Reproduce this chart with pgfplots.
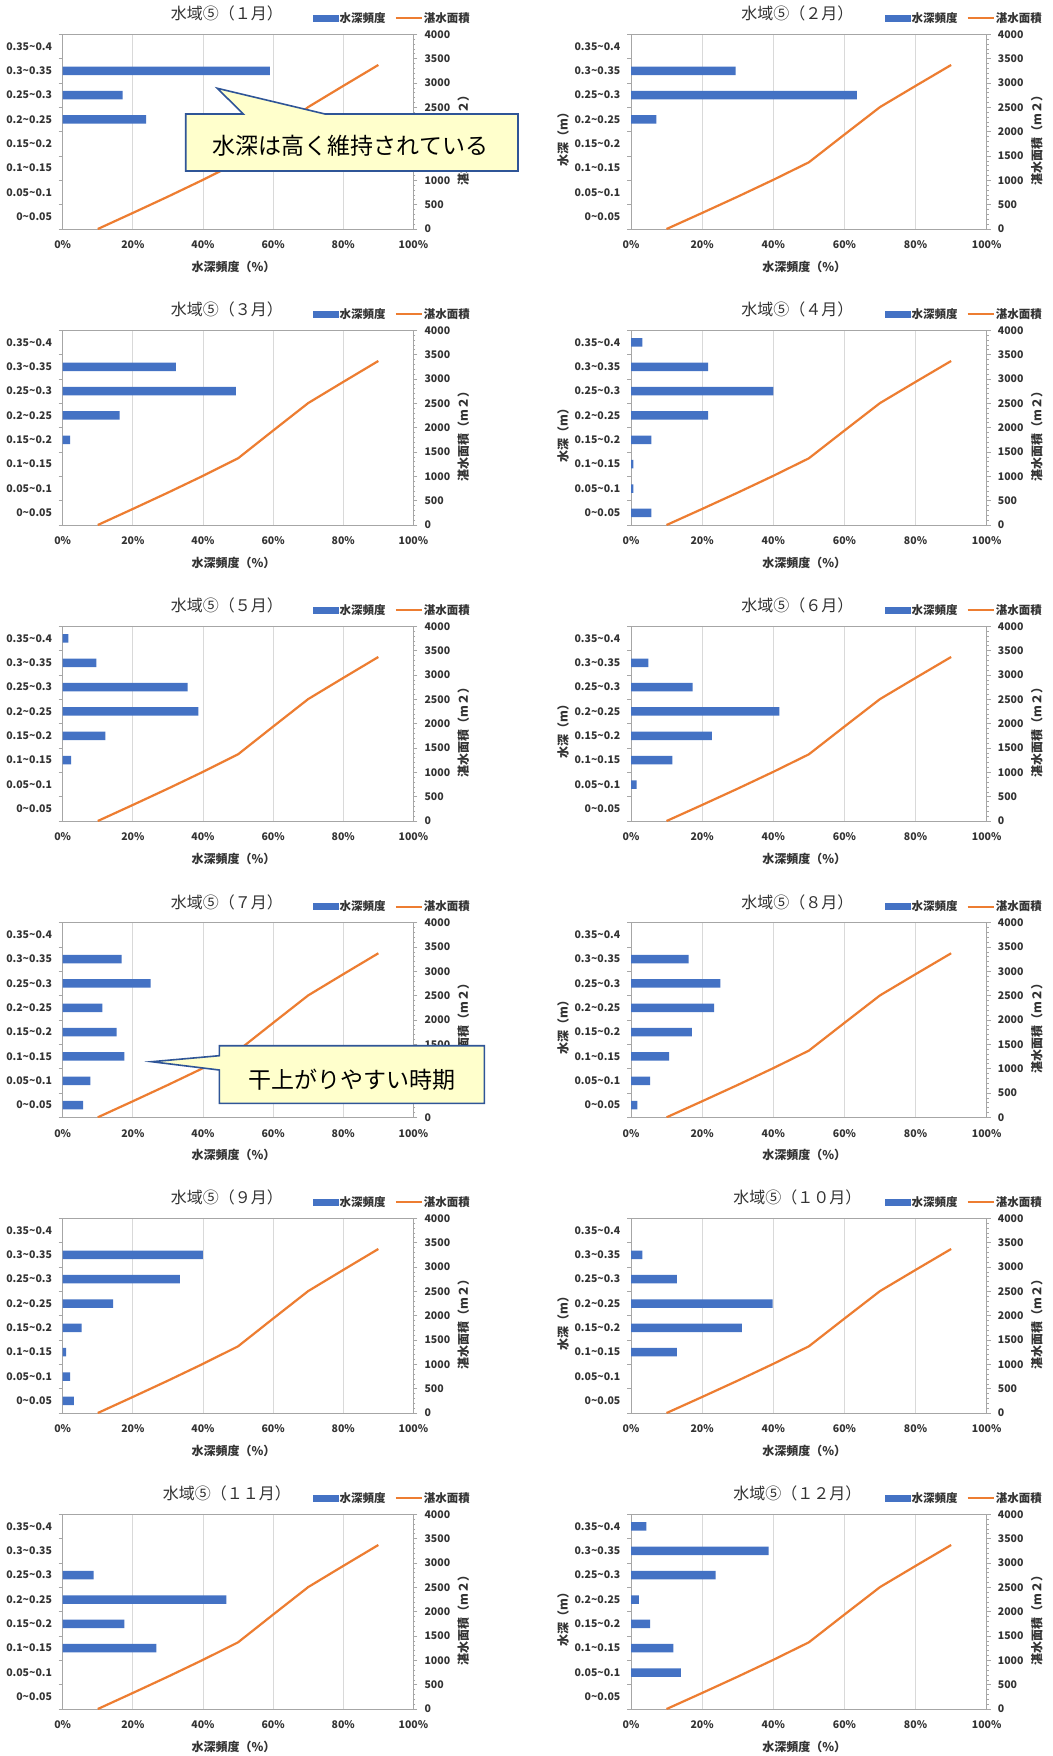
\documentclass[border=0pt]{standalone}
\usepackage{fontspec}
\setmainfont{Noto Sans CJK JP}
\usepackage{pgfplots}
\pgfplotsset{compat=1.18}

\definecolor{barblue}{HTML}{4472C4}
\definecolor{lineorange}{HTML}{ED7D31}
\definecolor{gridgray}{HTML}{D9D9D9}
\definecolor{axisgray}{HTML}{A6A6A6}
\definecolor{txt}{HTML}{333333}
\definecolor{calloutfill}{HTML}{FFFFCC}
\definecolor{calloutline}{HTML}{2F5597}

\newcommand{\tickfont}{\fontsize{10.5}{12}\selectfont\bfseries}
\newcommand{\labfont}{\fontsize{12}{14}\selectfont\bfseries}
\newcommand{\ttlfont}{\fontsize{16}{18}\selectfont}
\newcommand{\tl}{\textasciitilde}

\pgfplotsset{
  barleg/.style={legend image code/.code={\fill[barblue] (0pt,-3pt) rectangle (25pt,3pt);}},
  orangeline/.style={lineorange, line width=2.2pt, line join=round,
    legend image code/.code={\draw[lineorange, line width=2.2pt] (0pt,0pt) -- (26pt,0pt);}},
  panelcommon/.style={
    anchor=south west, scale only axis, height=194.7pt,
    xmin=0, xmax=100,
  },
  panelbars/.style={
    panelcommon,
    ymin=0, ymax=8,
    xbar, bar width=8.5pt,
    axis line style={axisgray, line width=0.8pt},
    xtick={0,20,...,100},
    xticklabels={0\%,20\%,40\%,60\%,80\%,100\%},
    xtick pos=bottom,
    xmajorgrids, grid style={gridgray, line width=0.8pt},
    ytick={0.5,1.5,...,7.5},
    yticklabels={0\tl0.05,0.05\tl0.1,0.1\tl0.15,0.15\tl0.2,0.2\tl0.25,0.25\tl0.3,0.3\tl0.35,0.35\tl0.4},
    minor ytick={0,1,...,8},
    ytick pos=left,
    tick align=outside,
    major tick length=0pt, minor tick length=4pt,
    minor tick style={axisgray, line width=0.8pt},
    major tick style={axisgray},
    xticklabel style={font=\tickfont, text=txt, anchor=center, inner sep=0pt, yshift=-16pt},
    yticklabel style={font=\tickfont, text=txt, anchor=east, inner sep=0pt, xshift=-10.5pt},
    xlabel={水深頻度（\%）},
    xlabel style={font=\labfont, text=txt, at={(axis description cs:0.487,0)}, anchor=center, yshift=-38pt},
    % the label is rotated, so a shift along its own y moves it sideways
    ylabel style={font=\labfont, text=txt, at={(axis description cs:0,0.477)}, anchor=center, yshift=68pt},
    title style={font=\ttlfont, text=txt, at={(axis description cs:0.468,1)}, anchor=center, yshift=14.5pt},
  },
  panelarea/.style={
    panelcommon,
    ymin=0, ymax=4000,
    axis x line=none,
    axis y line*=right,
    axis line style={axisgray, line width=0.8pt},
    ytick={0,500,...,4000},
    yticklabels={0,500,1000,1500,2000,2500,3000,3500,4000},
    minor y tick num=4,
    tick align=outside,
    major tick length=4pt, minor tick length=2pt,
    every tick/.style={axisgray, line width=0.6pt},
    yticklabel style={font=\tickfont, text=txt, anchor=west, inner sep=0pt, xshift=7pt},
    ylabel={湛水面積（m２）},
    ylabel style={font=\labfont, text=txt, at={(axis description cs:1,0.472)}, anchor=center, yshift=-50pt},
    legend columns=2,
    legend cell align=left,
    legend style={at={(axis description cs:0.714,1)}, anchor=west, yshift=16pt,
      draw=none, fill=none, inner sep=0pt,
      font=\fontsize{11.5}{13}\selectfont\bfseries, text=txt,
      nodes={inner sep=1pt},
      /tikz/every even column/.append style={column sep=8pt}},
  },
}

% one month: #1 left edge, #2 bottom edge (downward), #3 width, #4 title, #5 bar data, #6 extra options
\newcommand{\panel}[6]{%
\begin{axis}[panelbars, at={(#1pt,-#2pt)}, width=#3pt, title={#4}, #6]
  \addplot[fill=barblue, draw=none] coordinates {#5};
\end{axis}
\begin{axis}[panelarea, at={(#1pt,-#2pt)}, width=#3pt]
  \addlegendimage{barleg}
  \addlegendentry{水深頻度}
  \addplot[orangeline] coordinates {(10,0) (20,330) (30,665) (40,1010) (50,1370) (60,1940) (70,2505) (80,2940) (90,3370)};
  \addlegendentry{湛水面積}
\end{axis}}

\begin{document}
\begin{tikzpicture}
\fill[white] (0pt,0pt) rectangle (1052pt,-1756pt);
\useasboundingbox (0pt,0pt) rectangle (1052pt,-1756pt);

% left column
\panel{62.7}{229}{350.7}{水域⑤（１月）}{(59.1,6.5) (17.1,5.5) (23.8,4.5)}{}
\panel{62.7}{525}{350.7}{水域⑤（３月）}{(32.3,6.5) (49.4,5.5) (16.2,4.5) (2.1,3.5)}{}
\panel{62.7}{821}{350.7}{水域⑤（５月）}{(1.6,7.5) (9.6,6.5) (35.6,5.5) (38.7,4.5) (12.2,3.5) (2.4,2.5)}{}
\panel{62.7}{1117.3}{350.7}{水域⑤（７月）}{(16.8,6.5) (25.1,5.5) (11.3,4.5) (15.4,3.5) (17.6,2.5) (7.9,1.5) (5.8,0.5)}{}
\panel{62.7}{1413}{350.7}{水域⑤（９月）}{(40.0,6.5) (33.4,5.5) (14.4,4.5) (5.4,3.5) (1.0,2.5) (2.1,1.5) (3.2,0.5)}{}
\panel{62.7}{1709}{350.7}{水域⑤（１１月）}{(8.8,5.5) (46.7,4.5) (17.6,3.5) (26.7,2.5)}{}

% right column
\panel{631}{229}{355.7}{水域⑤（２月）}{(29.4,6.5) (63.5,5.5) (7.1,4.5)}{ylabel={水深（m）}}
\panel{631}{525}{355.7}{水域⑤（４月）}{(3.2,7.5) (21.7,6.5) (40.0,5.5) (21.7,4.5) (5.7,3.5) (0.7,2.5) (0.7,1.5) (5.7,0.5)}{ylabel={水深（m）}}
\panel{631}{821}{355.7}{水域⑤（６月）}{(4.9,6.5) (17.3,5.5) (41.7,4.5) (22.7,3.5) (11.6,2.5) (1.6,1.5)}{ylabel={水深（m）}}
\panel{631}{1117.3}{355.7}{水域⑤（８月）}{(16.2,6.5) (25.1,5.5) (23.4,4.5) (17.1,3.5) (10.7,2.5) (5.4,1.5) (1.8,0.5)}{ylabel={水深（m）}}
\panel{631}{1413}{355.7}{水域⑤（１０月）}{(3.2,6.5) (12.9,5.5) (39.8,4.5) (31.2,3.5) (12.9,2.5)}{ylabel={水深（m）}}
\panel{631}{1709}{355.7}{水域⑤（１２月）}{(4.3,7.5) (38.7,6.5) (23.8,5.5) (2.2,4.5) (5.4,3.5) (11.9,2.5) (14.0,1.5)}{ylabel={水深（m）}}

% callouts
\filldraw[fill=calloutfill, draw=calloutline, line width=1.6pt, line join=miter]
  (185.7pt,-114pt) -- (243.3pt,-114pt) -- (217.3pt,-88.3pt) -- (325pt,-114pt)
  -- (518pt,-114pt) -- (518pt,-171pt) -- (185.7pt,-171pt) -- cycle;
\node[text=black, font=\fontsize{23}{25}\selectfont] at (350.5pt,-146pt) {水深は高く維持されている};

\filldraw[fill=calloutfill, draw=calloutline, line width=1.6pt, line join=miter]
  (219.3pt,-1045.7pt) -- (484.3pt,-1045.7pt) -- (484.3pt,-1103.3pt) -- (219.3pt,-1103.3pt)
  -- (219.3pt,-1070pt) -- (151.7pt,-1061.7pt) -- (219.3pt,-1055.7pt) -- cycle;
\node[text=black, font=\fontsize{23}{25}\selectfont] at (352pt,-1080pt) {干上がりやすい時期};
\end{tikzpicture}
\end{document}
